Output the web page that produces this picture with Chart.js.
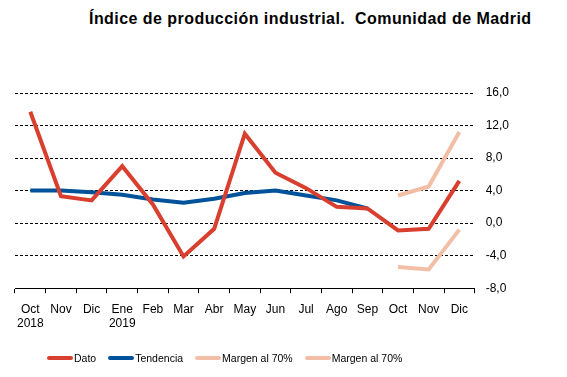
<!DOCTYPE html>
<html>
<head>
<meta charset="utf-8">
<script src="https://cdn.jsdelivr.net/npm/chart.js@4/dist/chart.umd.min.js"></script>
<style>
  html, body { margin: 0; padding: 0; background: #fff; }
  #wrap { position: relative; width: 567px; height: 377px; }
  #title {
    position: absolute; left: 89px; top: 10px; white-space: nowrap;
    font: bold 16px "Liberation Sans", Arial, sans-serif; color: #000;
    letter-spacing: 0.45px;
  }
  #legend {
    position: absolute; left: 47px; top: 352px; display: flex; align-items: center;
    font: 10.5px "Liberation Sans", Arial, sans-serif; color: #000; white-space: nowrap;
  }
  #legend .item { display: flex; align-items: center; margin-right: 12px; }
  #legend .swatch { width: 26px; height: 4px; border-radius: 2px; margin-right: 1px; }
  canvas { position: absolute; left: 0; top: 0; }
</style>
</head>
<body>
<div id="wrap">
  <div id="title">Índice de producción industrial.&nbsp; Comunidad de Madrid</div>
  <canvas id="chart-ipi" width="567" height="377"></canvas>
  <div id="legend"></div>
</div>
<script>
// ── Data ───────────────────────────────────────────────────────────────────
const months = [
  ["Oct", "2018"], "Nov", "Dic", ["Ene", "2019"], "Feb", "Mar", "Abr",
  "May", "Jun", "Jul", "Ago", "Sep", "Oct", "Nov", "Dic",
];
const dato = [13.7, 3.3, 2.8, 7.0, 2.3, -4.1, -0.7, 11.0, 6.2, 4.3, 2.0, 1.8, -0.9, -0.7, 5.2];
const tendencia = [4.0, 4.0, 3.8, 3.5, 2.9, 2.5, 3.0, 3.7, 4.0, 3.4, 2.8, 1.8, null, null, null];
const margenSup = [null, null, null, null, null, null, null, null, null, null, null, null, 3.4, 4.5, 11.2];
const margenInf = [null, null, null, null, null, null, null, null, null, null, null, null, -5.4, -5.7, -0.8];
const yTicks = [-8, -4, 0, 4, 8, 12, 16];

const COLORS = {
  red: "#d93f2e",
  blue: "#00529b",
  peach: "#f2bfa6",
};

const FONT = "'Liberation Sans', Arial, sans-serif";

function line(label, data, color) {
  return {
    label,
    data,
    borderColor: color,
    backgroundColor: color,
    borderWidth: 4,
    pointRadius: 0,
    tension: 0,
    spanGaps: false,
  };
}

const chart = new Chart(document.getElementById("chart-ipi"), {
  type: "line",
  data: {
    labels: months,
    datasets: [
      line("Dato", dato, COLORS.red),
      line("Tendencia", tendencia, COLORS.blue),
      line("Margen al 70%", margenSup, COLORS.peach),
      line("Margen al 70%", margenInf, COLORS.peach),
    ],
  },
  options: {
    responsive: false,
    animation: false,
    layout: { padding: { top: 93, left: 15, right: 47, bottom: 37 } },
    plugins: {
      title: { display: false },
      tooltip: { enabled: false },
      legend: { display: false },
    },
    scales: {
      x: {
        offset: true,
        grid: {
          offset: true,
          drawOnChartArea: false,
          drawTicks: true,
          tickLength: 5,
          color: "#000",
        },
        border: { display: true, color: "#000", width: 1 },
        ticks: {
          color: "#000",
          maxRotation: 0,
          autoSkip: false,
          padding: 9,
          font: { family: FONT, size: 12 },
        },
      },
      y: {
        position: "right",
        min: -8,
        max: 16,
        afterBuildTicks: (scale) => {
          scale.ticks = yTicks.map((v) => ({ value: v }));
        },
        grid: { color: "#000", drawTicks: false, lineWidth: 1 },
        border: { display: false, dash: [3, 2] },
        ticks: {
          color: "#000",
          padding: 11,
          font: { family: FONT, size: 12 },
          callback: (v) => v.toFixed(1).replace(".", ","),
        },
      },
    },
  },
});

// legend built from the dataset config
const legendEl = document.getElementById("legend");
chart.data.datasets.forEach((ds) => {
  const item = document.createElement("div");
  item.className = "item";
  const sw = document.createElement("span");
  sw.className = "swatch";
  sw.style.background = ds.borderColor;
  item.appendChild(sw);
  item.appendChild(document.createTextNode(ds.label));
  legendEl.appendChild(item);
});
</script>
</body>
</html>
